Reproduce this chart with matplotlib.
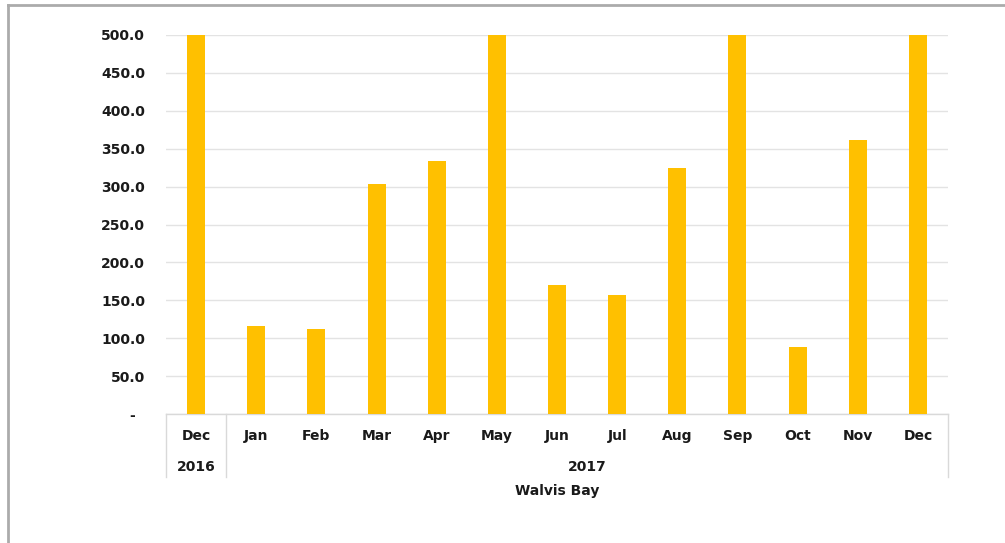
import matplotlib
matplotlib.use("Agg")
import matplotlib.pyplot as plt
from matplotlib.lines import Line2D
from matplotlib.transforms import blended_transform_factory

months = ["Dec", "Jan", "Feb", "Mar", "Apr", "May", "Jun", "Jul", "Aug", "Sep", "Oct", "Nov", "Dec"]
years = ["2016", "2017"]
year_spans = [(0, 0), (1, 12)]
values = [500, 116, 112, 304, 334, 500, 170, 157, 325, 500, 88, 361, 500]
yticks = [0, 50, 100, 150, 200, 250, 300, 350, 400, 450, 500]
xlabel = "Walvis Bay"

plt.rcParams['font.family'] = ['DejaVu Sans']

W, H = 1005, 543
fig = plt.figure(figsize=(W / 100, H / 100), dpi=100)
L, R, T, B = 166, 948, 35, 414
ax = fig.add_axes([L / W, 1 - B / H, (R - L) / W, (B - T) / H])

FS = 10
TC = "#1a1a1a"
x = list(range(len(values)))
ax.bar(x, values, width=0.3, color="#FFC000", zorder=3)
ax.set_xlim(-0.5, len(values) - 0.5)
ax.set_ylim(0, 500)
ax.set_yticks(yticks)
ax.set_yticklabels(["-  " if v == 0 else f"{v:.1f}" for v in yticks],
                   fontsize=FS, fontweight="bold", color=TC)
ax.tick_params(axis="y", length=0, pad=15)
ax.set_xticks([])
ax.grid(axis="y", color="#E3E3E3", linewidth=1, zorder=0)
for s in ["left", "right", "top"]:
    ax.spines[s].set_visible(False)
ax.spines["bottom"].set_color("#D9D9D9")
ax.spines["bottom"].set_linewidth(1)

ah = B - T
tr = blended_transform_factory(ax.transData, ax.transAxes)
for i, m in enumerate(months):
    ax.text(i, -22 / ah, m, transform=tr, ha="center", va="center",
            fontsize=FS, fontweight="bold", color=TC)
for yl, (a, b) in zip(years, year_spans):
    ax.text((a + b) / 2, -53 / ah, yl, transform=tr, ha="center", va="center",
            fontsize=FS, fontweight="bold", color=TC)
seps = [year_spans[0][0] - 0.5] + [sp[1] + 0.5 for sp in year_spans]
for sx in seps:
    ax.plot([sx, sx], [0, -63 / ah], transform=tr, color="#D9D9D9",
            linewidth=1, clip_on=False)
ax.text(0.5 * (len(values) - 1), -77 / ah, xlabel, transform=tr, ha="center",
        va="center", fontsize=FS, fontweight="bold", color=TC)

# figure border
fig.add_artist(Line2D([8 / W, 1], [1 - 5 / H, 1 - 5 / H], color="#ABABAB", linewidth=2))
fig.add_artist(Line2D([8 / W, 8 / W], [0, 1 - 5 / H], color="#ABABAB", linewidth=2))

fig.savefig("out.png", dpi=100)
